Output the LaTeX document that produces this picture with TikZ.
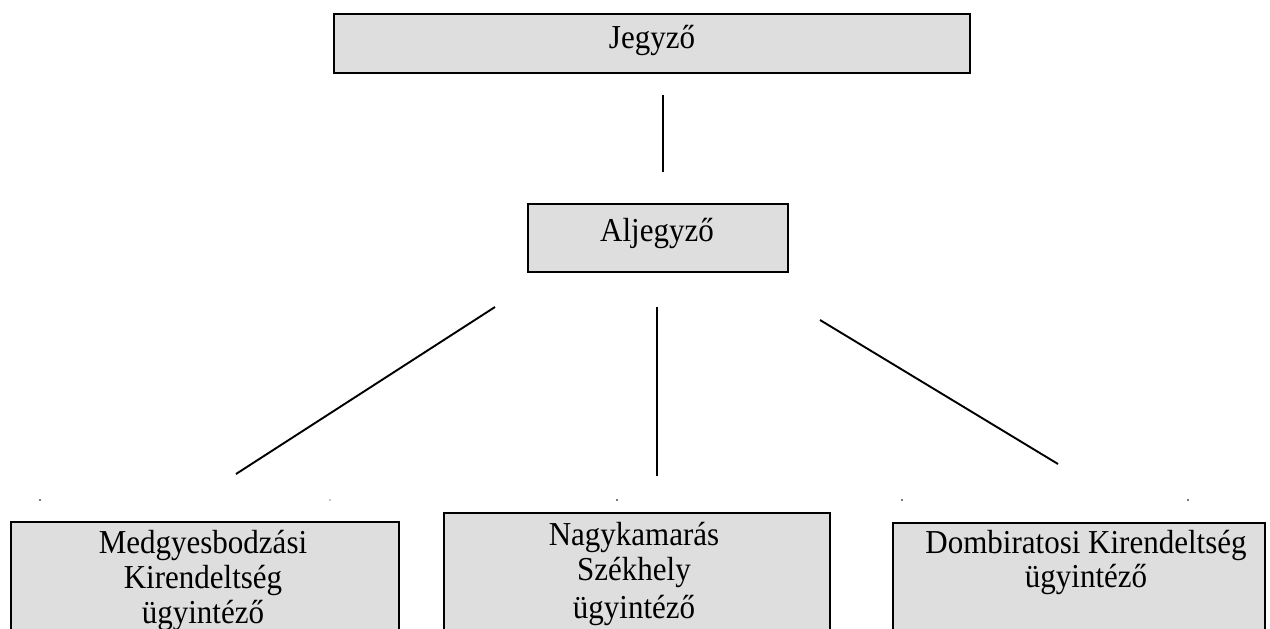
\documentclass[tikz,border=0pt]{standalone}
\usepackage{graphicx}
\usepackage{fontspec}
\setmainfont{Liberation Serif}
\newcommand\tallt[1]{\scalebox{1}[1.08]{#1}}
\begin{document}
\begin{tikzpicture}[x=1pt,y=-1pt,
  box/.style={draw=black, line width=1.8pt, fill=black!13, inner sep=0pt, anchor=north west},
  lbl/.style={font=\fontsize{31}{35}\selectfont, inner sep=0pt, anchor=base},
  conn/.style={line width=1.9pt},
  speck/.style={fill=black!70, circle, inner sep=0pt, minimum size=2.4pt}]
\useasboundingbox (0,0) rectangle (1270,629);
\clip (0,0) rectangle (1270,629);
% boxes
\node[box, minimum width=636pt, minimum height=59pt] (jbox) at (333,13) {};
\node[box, minimum width=260pt, minimum height=68pt] (abox) at (527,203) {};
\node[box, minimum width=388pt, minimum height=160pt] (mbox) at (10,521) {};
\node[box, minimum width=386pt, minimum height=160pt] (nbox) at (443,512) {};
\node[box, minimum width=372pt, minimum height=160pt] (dbox) at (892,522) {};
% labels
\node[lbl] (jegyzo) at (652,48) {\tallt{Jegyző}};
\node[lbl] (aljegyzo) at (657,241) {\tallt{Aljegyző}};
\node[lbl] (m1) at (203,553) {\tallt{Medgyesbodzási}};
\node[lbl] (m2) at (203,588) {\tallt{Kirendeltség}};
\node[lbl] (m3) at (203,623) {\tallt{ügyintéző}};
\node[lbl] (n1) at (634,545) {\tallt{Nagykamarás}};
\node[lbl] (n2) at (634,580) {\tallt{Székhely}};
\node[lbl] (n3) at (634,618) {\tallt{ügyintéző}};
\node[lbl] (d1) at (1086,553) {\tallt{Dombiratosi Kirendeltség}};
\node[lbl] (d2) at (1086,587) {\tallt{ügyintéző}};
% connector end points
\coordinate (ja) at (663,95);
\coordinate (jb) at (663,172);
\coordinate (la) at (495,307);
\coordinate (lb) at (236,474);
\coordinate (ma) at (657,307);
\coordinate (mb) at (657,476);
\coordinate (ra) at (820,320);
\coordinate (rb) at (1058,464);
\draw[conn] (ja) -- (jb);
\draw[conn] (la) -- (lb);
\draw[conn] (ma) -- (mb);
\draw[conn] (ra) -- (rb);
% stray specks
\node[speck] (s1) at (40,500) {};
\node[speck, fill=black!30] (s2) at (330,500) {};
\node[speck] (s3) at (617,500) {};
\node[speck] (s4) at (902,500) {};
\node[speck] (s5) at (1188,500) {};
\end{tikzpicture}
\end{document}
